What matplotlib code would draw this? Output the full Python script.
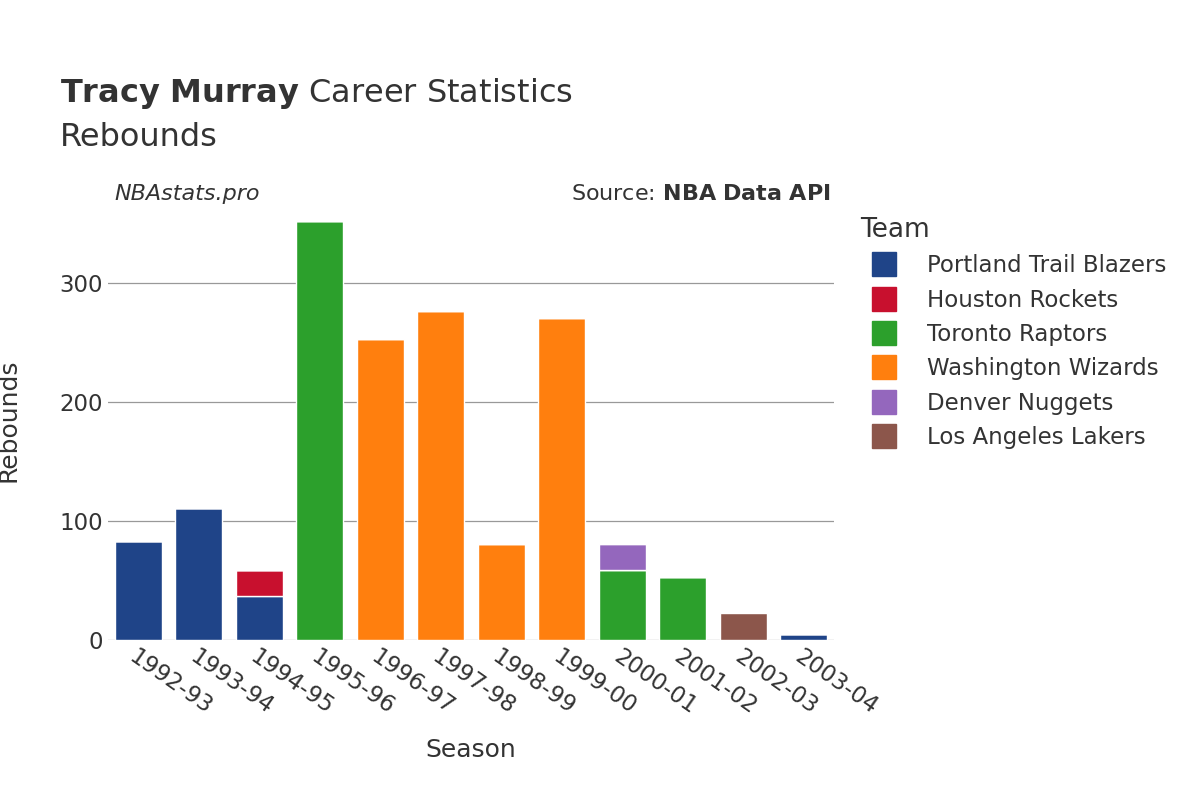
import matplotlib.pyplot as plt
from matplotlib.lines import Line2D
import numpy as np

seasons = ["1992-93", "1993-94", "1994-95", "1995-96", "1996-97", "1997-98",
           "1998-99", "1999-00", "2000-01", "2001-02", "2002-03", "2003-04"]
teams = ["Portland Trail Blazers", "Houston Rockets", "Toronto Raptors",
         "Washington Wizards", "Denver Nuggets", "Los Angeles Lakers"]
colors = ["#1f4488", "#c8102e", "#2ca02c", "#ff7f0e", "#9467bd", "#8c564b"]

# rebounds per team for each season (stacked in team order)
por = [83, 111, 37, 0, 0, 0, 0, 0, 0, 0, 0, 5]
hou = [0, 0, 22, 0, 0, 0, 0, 0, 0, 0, 0, 0]
tor = [0, 0, 0, 352, 0, 0, 0, 0, 59, 53, 0, 0]
was = [0, 0, 0, 0, 253, 277, 81, 271, 0, 0, 0, 0]
den = [0, 0, 0, 0, 0, 0, 0, 0, 22, 0, 0, 0]
lal = [0, 0, 0, 0, 0, 0, 0, 0, 0, 0, 23, 0]
series = [por, hou, tor, was, den, lal]

fig = plt.figure(figsize=(12, 8), dpi=100)
ax = fig.add_axes([0.09, 0.2, 0.605, 0.55])

x = np.arange(len(seasons))
bottom = np.zeros(len(seasons))
for vals, c in zip(series, colors):
    vals = np.array(vals, dtype=float)
    ax.bar(x, vals, 0.78, bottom=bottom, color=c, edgecolor="white", linewidth=1, zorder=3)
    bottom += vals

ax.set_xlim(-0.5, len(seasons) - 0.5)
ax.set_ylim(0, 370)
ax.set_yticks([0, 100, 200, 300])
ax.grid(axis="y", color="#999999", linewidth=0.9, zorder=0)
for s in ax.spines.values():
    s.set_visible(False)
ax.tick_params(length=0, labelsize=16.5, colors="#333333")
ax.set_xticks(x)
ax.set_xticklabels(seasons, rotation=-35, ha="left", rotation_mode="anchor")
ax.set_xlabel("Season", fontsize=18, color="#333333", labelpad=14)
ax.set_ylabel("Rebounds", fontsize=18, color="#333333", labelpad=28)

fig.text(0.05, 0.872, r"$\bf{Tracy\ Murray}$ Career Statistics", fontsize=23, color="#333333")
fig.text(0.05, 0.818, "Rebounds", fontsize=23, color="#333333")
fig.text(0.095, 0.75, "NBAstats.pro", fontsize=16, style="italic", color="#333333")
fig.text(0.692, 0.75, r"Source: $\bf{NBA\ Data\ API}$", fontsize=16, color="#333333", ha="right")

handles = [Line2D([], [], marker="s", linestyle="", markersize=17, color=c) for c in colors]
leg = fig.legend(handles, teams, loc="upper left", bbox_to_anchor=(0.7, 0.755),
                 frameon=False, fontsize=16.5, title="Team", title_fontsize=19,
                 labelspacing=0.5, handletextpad=0.9)
leg._legend_box.align = "left"
for t in leg.get_texts():
    t.set_color("#333333")
leg.get_title().set_color("#333333")

fig.savefig("out.png")
